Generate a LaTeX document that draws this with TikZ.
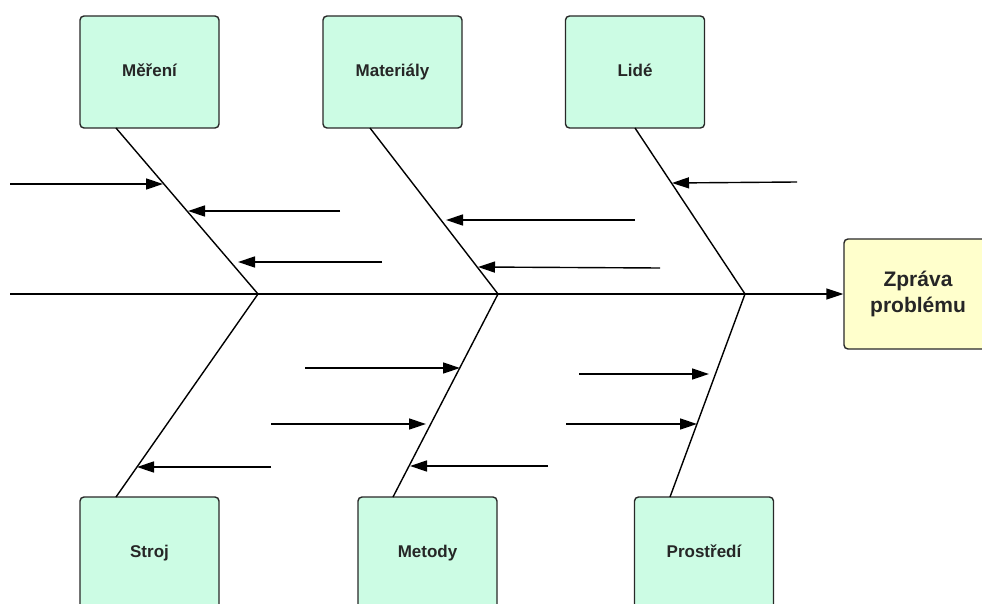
\documentclass[tikz,border=0pt]{standalone}
\usepackage{fontspec}
\setmainfont{Liberation Sans}
\usetikzlibrary{arrows.meta}
\definecolor{mint}{RGB}{204,252,228}
\definecolor{pale}{RGB}{255,255,204}
\definecolor{edge}{RGB}{40,40,40}
\begin{document}
\begin{tikzpicture}[x=1pt,y=-1pt,
  cause/.style={draw=edge,line width=1.4pt,rounded corners=4pt,fill=mint,
    minimum width=139pt,minimum height=112pt,inner sep=0pt,
    text height=12pt,text depth=3.5pt,
    font=\fontsize{17}{20}\selectfont\bfseries,text=black!85},
  effect/.style={draw=edge,line width=1.4pt,rounded corners=4pt,fill=pale,
    minimum width=148pt,minimum height=110pt,inner sep=0pt,align=center,
    font=\fontsize{21}{26}\selectfont\bfseries,text=black!85},
  bone/.style={line width=1.4pt,line join=round},
  sub/.style={line width=1.4pt,-{Triangle[length=17pt,width=11pt]}}]
\useasboundingbox (0,0) rectangle (982,604);
\clip (0,0) rectangle (982,604);
% boxes
\node[cause] (mer) at (149.5,72) {Měření};
\node[cause] (mat) at (392.5,72) {Materiály};
\node[cause] (lid) at (635,72) {Lidé};
\node[cause] (str) at (149.5,553) {Stroj};
\node[cause] (met) at (427.5,553) {Metody};
\node[cause] (pro) at (704,553) {Prostředí};
\node[effect] (zpr) at (918,294) {Zpráva\\problému};
% spine and bone ends
\coordinate (s0) at (10,294);
\coordinate (j1) at (258,294);
\coordinate (j2) at (498,294);
\coordinate (j3) at (745,294);
\coordinate (merB) at (116,128);
\coordinate (matB) at (370,128);
\coordinate (lidB) at (635,128);
\coordinate (strB) at (116,497);
\coordinate (metB) at (393,497);
\coordinate (proB) at (670,497);
\draw[sub] (s0) -- (zpr.west);
\draw[bone] (merB) -- (j1) -- (strB);
\draw[bone] (matB) -- (j2) -- (metB);
\draw[bone] (lidB) -- (j3) -- (proB);
% sub-cause arrows
\coordinate (a1) at (10,184);   \coordinate (t1) at (163,184);
\coordinate (a2) at (340,211);  \coordinate (t2) at (188,211);
\coordinate (a3) at (382,262);  \coordinate (t3) at (238,262);
\coordinate (a4) at (635,220);  \coordinate (t4) at (446,220);
\coordinate (a5) at (660,268);  \coordinate (t5) at (478,267);
\coordinate (a6) at (797,182);  \coordinate (t6) at (672,183);
\coordinate (a7) at (305,368);  \coordinate (t7) at (460,368);
\coordinate (a8) at (271,424);  \coordinate (t8) at (426,424);
\coordinate (a9) at (271,467);  \coordinate (t9) at (137,467);
\coordinate (a10) at (548,466); \coordinate (t10) at (410,466);
\coordinate (a11) at (579,374); \coordinate (t11) at (709,374);
\coordinate (a12) at (566,424); \coordinate (t12) at (697,424);
\foreach \i in {1,...,12} {\draw[sub] (a\i) -- (t\i);}
\end{tikzpicture}
\end{document}
